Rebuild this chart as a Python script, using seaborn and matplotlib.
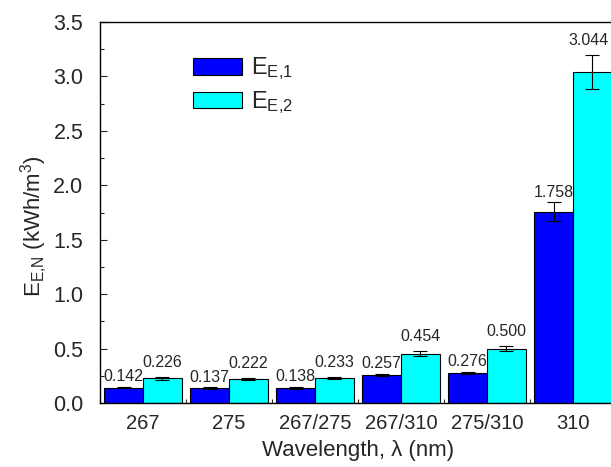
import matplotlib
matplotlib.use("Agg")
import matplotlib.pyplot as plt
import seaborn as sns
import pandas as pd
import numpy as np
from matplotlib.ticker import MultipleLocator, FixedLocator, FormatStrFormatter

categories = ["267", "275", "267/275", "267/310", "275/310", "310"]
e1_values = [0.142, 0.137, 0.138, 0.257, 0.276, 1.758]
e2_values = [0.226, 0.222, 0.233, 0.454, 0.500, 3.044]
e1_errors = [0.008, 0.007, 0.007, 0.010, 0.012, 0.085]
e2_errors = [0.012, 0.010, 0.010, 0.022, 0.025, 0.155]
series_names = ["$\\mathregular{E_{E{,}1}}$", "$\\mathregular{E_{E{,}2}}$"]

sns.set_style("ticks")
plt.rcParams["font.family"] = ["Liberation Sans", "DejaVu Sans"]
plt.rcParams["mathtext.fontset"] = "custom"
plt.rcParams["mathtext.rm"] = "Liberation Sans"

df = pd.DataFrame({
    "Wavelength": categories * 2,
    "value": e1_values + e2_values,
    "series": [series_names[0]] * len(categories) + [series_names[1]] * len(categories),
})

fig = plt.figure(figsize=(6.11, 4.67), dpi=100)
ax = fig.add_axes([100 / 611, 64 / 467, 516 / 611, 381 / 467])

sns.barplot(data=df, x="Wavelength", y="value", hue="series", order=categories,
            hue_order=series_names, palette=["#0000FF", "#00FFFF"], saturation=1,
            width=0.906, edgecolor="black", linewidth=0.8, errorbar=None, ax=ax)

bar_containers = list(ax.containers)
n_series = len(bar_containers)

# error bars and value labels on each bar
for j, (container, vals, errs, off) in enumerate(zip(bar_containers, [e1_values, e2_values],
                                                     [e1_errors, e2_errors], [2, 5])):
    xs = [p.get_x() + p.get_width() / 2 for p in container.patches]
    ax.errorbar(xs, vals, yerr=errs, fmt="none", ecolor="black", elinewidth=0.8,
                capsize=5, capthick=0.8, zorder=5)
    for i, (x, v, e) in enumerate(zip(xs, vals, errs)):
        # keep the rightmost label inside the figure edge
        last = (i == len(xs) - 1) and (j == n_series - 1)
        ax.annotate(f"{v:.3f}", (x, v + e), xytext=(-3 if last else 0, off),
                    textcoords="offset points", ha="center", va="bottom",
                    fontsize=11.5, annotation_clip=False)

ax.set_xlim(-0.5, 5.5)
ax.set_ylim(0, 3.5)
ax.yaxis.set_major_locator(MultipleLocator(0.5))
ax.yaxis.set_minor_locator(MultipleLocator(0.25))
ax.yaxis.set_major_formatter(FormatStrFormatter("%.1f"))
ax.xaxis.set_minor_locator(FixedLocator(np.arange(-0.5, 6, 1.0)))
ax.tick_params(axis="both", which="both", direction="in")
ax.tick_params(axis="y", which="major", length=5, width=0.8, pad=12, labelsize=15.5)
ax.tick_params(axis="y", which="minor", length=3, width=0.8)
ax.tick_params(axis="x", which="major", length=0, pad=8, labelsize=14.5)
ax.tick_params(axis="x", which="minor", length=3, width=0.8)
for s in ax.spines.values():
    s.set_linewidth(1.0)
    s.set_color("black")

ax.set_xlabel("Wavelength, λ (nm)", fontsize=16, labelpad=5)
ax.set_ylabel("$\\mathregular{E_{E{,}N}}$ (kWh/m$\\mathregular{^3}$)", fontsize=16)
ax.yaxis.set_label_coords(-0.097, 0.465)

leg = ax.legend(loc="upper left", bbox_to_anchor=(0.18, 0.912), frameon=False,
                fontsize=17, handlelength=2.1, handleheight=0.72, labelspacing=0.3,
                handletextpad=0.35, borderpad=0, borderaxespad=0)

fig.savefig("out.png", dpi=100)
